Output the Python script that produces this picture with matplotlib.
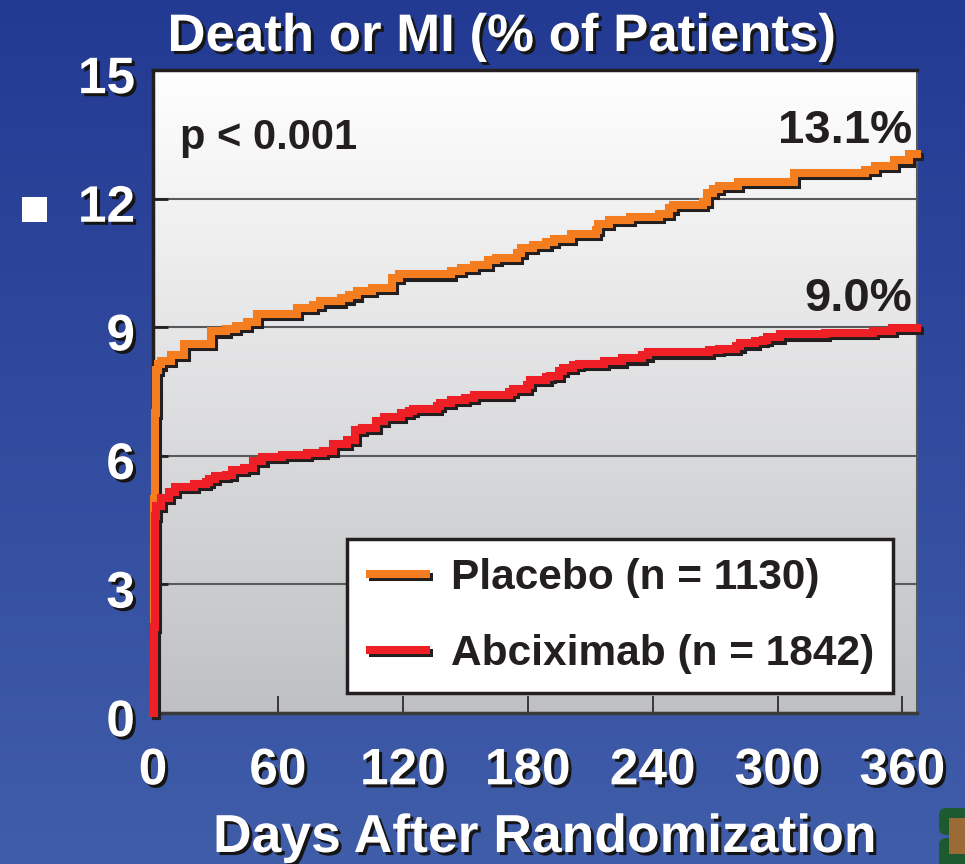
import numpy as np
import matplotlib
matplotlib.use("Agg")
from matplotlib import pyplot as plt
from matplotlib import patheffects as pe
from matplotlib.patches import Rectangle, FancyBboxPatch
from matplotlib.lines import Line2D

plt.rcParams['font.family'] = ['Liberation Sans', 'DejaVu Sans']
plt.rcParams['font.weight'] = 'bold'

# Kaplan-Meier style step data (days, % of patients)
placebo_days = [0, 0.4, 0.7, 1.0, 1.3, 1.6, 2.5, 3.8, 8.6, 15, 27.8, 35, 40, 45, 50,
                69, 77, 80, 90.5, 94, 98, 105, 115, 118, 143, 148, 154, 161, 165,
                175, 177, 182.5, 189, 192.5, 201, 212.6, 213.6, 219, 229, 243, 248,
                250, 264, 266, 269, 272, 281, 308, 342, 347, 356, 363, 367]
placebo_vals = [0, 3.0, 5.0, 7.0, 7.6, 8.0, 8.13, 8.21, 8.36, 8.61, 8.90, 8.95, 9.02, 9.13, 9.31,
                9.44, 9.51, 9.60, 9.67, 9.74, 9.84, 9.91, 10.14, 10.23, 10.32, 10.39, 10.46, 10.56, 10.62,
                10.74, 10.84, 10.91, 10.98, 11.06, 11.18, 11.26, 11.41, 11.50, 11.58, 11.65, 11.77,
                11.86, 11.92, 12.14, 12.23, 12.30, 12.39, 12.60, 12.67, 12.77, 12.89, 13.04, 13.04]

abcix_days = [0, 0.5, 0.8, 1.0, 1.5, 3.7, 4, 7.8, 10.6, 19.7, 25.4, 27, 29.8, 35, 37.8,
              43.7, 48, 52.6, 62, 73.8, 81.8, 86.6, 93, 97, 100.6, 107, 111, 119, 123,
              125, 136.5, 138, 143, 150, 154, 171, 173, 179.5, 181, 189, 190.6, 195,
              197, 201.6, 204.5, 216.5, 225.4, 235, 237.6, 267, 272, 280, 282, 289,
              293, 295, 301, 323, 346, 355, 367]
abcix_vals = [0, 2.0, 3.5, 4.6, 4.84, 4.89, 5.02, 5.16, 5.28, 5.35, 5.40, 5.45, 5.52, 5.56, 5.66,
              5.72, 5.87, 5.97, 6.02, 6.07, 6.11, 6.28, 6.36, 6.61, 6.65, 6.81, 6.91, 6.99, 7.04,
              7.10, 7.17, 7.24, 7.31, 7.36, 7.43, 7.50, 7.55, 7.66, 7.76, 7.83, 7.87, 7.97,
              8.04, 8.11, 8.15, 8.20, 8.27, 8.34, 8.41, 8.46, 8.50, 8.55, 8.62, 8.67,
              8.71, 8.76, 8.83, 8.87, 8.92, 8.98, 8.98]

x_ticks = [0, 60, 120, 180, 240, 300, 360]
y_ticks = [0, 3, 6, 9, 12, 15]
series_labels = ['Placebo (n = 1130)', 'Abciximab (n = 1842)']
end_labels = ['13.1%', '9.0%']

ORANGE = '#f47d20'
RED = '#ee2026'
INK = '#231f20'

fig = plt.figure(figsize=(9.65, 8.64), dpi=100)

# blue slide background
bg = fig.add_axes([0, 0, 1, 1], zorder=-10)
bg.axis('off')
top_c = np.array([0.137, 0.227, 0.576])
bot_c = np.array([0.250, 0.365, 0.665])
t = np.linspace(0, 1, 256)[:, None, None]
bg.imshow(top_c * (1 - t) + bot_c * t, aspect='auto', extent=[0, 1, 0, 1])
bg.set_xlim(0, 1)
bg.set_ylim(0, 1)

ax = fig.add_axes([153 / 965, 151 / 864, 764 / 965, 643 / 864])
ax.set_facecolor('none')
ax.set_xlim(0, 367)
ax.set_ylim(0, 15)

# white-to-grey plot area
top_p = np.array([1.0, 1.0, 1.0])
bot_p = np.array([0.75, 0.755, 0.765])
ax.imshow(top_p * (1 - t) + bot_p * t, aspect='auto', extent=[0, 367, 0, 15], zorder=0)

ax.set_axisbelow(True)
ax.yaxis.grid(True, color='#58595b', lw=1.5)

shadow = [pe.SimpleLineShadow(offset=(2.2, -2.2), shadow_color=INK, alpha=1.0), pe.Normal()]
ax.plot(placebo_days, placebo_vals, drawstyle='steps-post', color=ORANGE, lw=5.8,
        solid_joinstyle='miter', path_effects=shadow, clip_on=False, zorder=4)
ax.plot(abcix_days, abcix_vals, drawstyle='steps-post', color=RED, lw=5.8,
        solid_joinstyle='miter', path_effects=shadow, clip_on=False, zorder=4)

ax.set_xticks(x_ticks)
ax.set_yticks(y_ticks)
txt_shadow = [pe.withSimplePatchShadow(offset=(2.2, -2.2), shadow_rgbFace='#151515', alpha=1.0)]
ax.tick_params(axis='y', direction='in', length=11, width=2, color=INK, pad=13,
               labelsize=37, labelcolor='white')
ax.tick_params(axis='x', direction='in', length=12, width=1.2, color=INK, pad=24,
               labelsize=37, labelcolor='white')
for lab in ax.get_xticklabels() + ax.get_yticklabels():
    lab.set_fontweight('bold')
    lab.set_path_effects(txt_shadow)
for lab in ax.get_yticklabels():
    lab.set_y(lab.get_position()[1])
    lab.set_transform(lab.get_transform() + matplotlib.transforms.ScaledTranslation(0, -3 / 72, fig.dpi_scale_trans))

ax.spines['left'].set_color(INK)
ax.spines['left'].set_linewidth(2.5)
ax.spines['top'].set_color(INK)
ax.spines['top'].set_linewidth(2.5)
ax.spines['bottom'].set_color('#3a3a3a')
ax.spines['bottom'].set_linewidth(2.5)
ax.spines['right'].set_color('#58595b')
ax.spines['right'].set_linewidth(1.5)

ax.text(0.035, 0.877, 'p < 0.001', transform=ax.transAxes, fontsize=30,
        fontweight='bold', color=INK, va='baseline', ha='left')
ax.text(0.9935, 0.8865, end_labels[0], transform=ax.transAxes, fontsize=34,
        fontweight='bold', color=INK, va='baseline', ha='right')
ax.text(0.9935, 0.6252, end_labels[1], transform=ax.transAxes, fontsize=34,
        fontweight='bold', color=INK, va='baseline', ha='right')

handles = [Line2D([], [], color=ORANGE, lw=5.8, solid_capstyle='butt', path_effects=shadow),
           Line2D([], [], color=RED, lw=5.8, solid_capstyle='butt', path_effects=shadow)]
leg = ax.legend(handles, series_labels, loc='lower right', bbox_to_anchor=(0.969, 0.031),
                bbox_transform=ax.transAxes, borderaxespad=0,
                prop={'family': 'Liberation Sans', 'weight': 'bold', 'size': 30.5},
                handlelength=1.5, handletextpad=0.5, borderpad=0.45, labelspacing=0.85,
                frameon=True, fancybox=False, edgecolor=INK, facecolor='white',
                framealpha=1)
leg.get_frame().set_linewidth(2.5)
for tx in leg.get_texts():
    tx.set_color(INK)
leg.set_zorder(6)

fig.text(0.519, 1 - 51 / 864, 'Death or MI (% of Patients)', fontsize=38, fontweight='bold',
         color='white', ha='center', va='baseline', path_effects=txt_shadow)
fig.text(545 / 965, 12 / 864, 'Days After Randomization', fontsize=38.5, fontweight='bold',
         color='white', ha='center', va='baseline', path_effects=txt_shadow)

# slide bullet and corner logo
fig.add_artist(Rectangle((22 / 965, 642 / 864), 25 / 965, 25 / 864,
                         transform=fig.transFigure, color='white', lw=0))
fig.add_artist(FancyBboxPatch((939 / 965, 29 / 864), 30 / 965, 27 / 864,
                              boxstyle='round,pad=0,rounding_size=0.008',
                              transform=fig.transFigure, color='#1d5a30', lw=0))
fig.add_artist(FancyBboxPatch((939 / 965, -5 / 864), 30 / 965, 31 / 864,
                              boxstyle='round,pad=0,rounding_size=0.008',
                              transform=fig.transFigure, color='#1d5a30', lw=0))
fig.add_artist(Rectangle((949 / 965, 10 / 864), 16 / 965, 36 / 864,
                         transform=fig.transFigure, color='#9c6a36', lw=0))

fig.savefig('out.png', dpi=100)
